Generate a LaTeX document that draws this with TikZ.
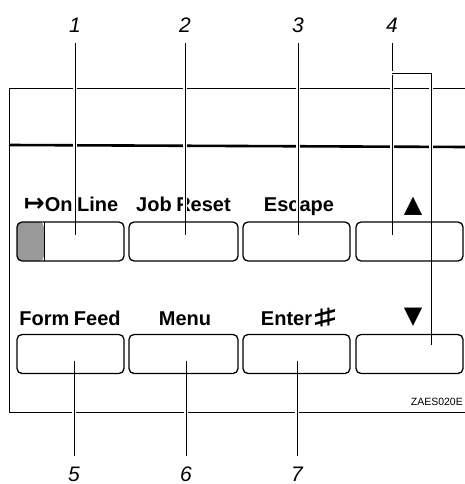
\documentclass[tikz,border=0pt]{standalone}
\usepackage{graphicx}
\usepackage{fontspec}
\setmainfont{Liberation Sans}
\newfontfamily\symfont{DejaVu Sans}
\usepackage{tikz}
\newcommand{\keyfont}{\fontsize{20}{20}\selectfont\bfseries\spaceskip=4.5pt}
\newcommand{\numfont}{\fontsize{21}{21}\selectfont\itshape}
\newcommand{\sharpkey}{\raisebox{-2pt}{\resizebox{20pt}{20pt}{\reflectbox{\rotatebox{90}{\#}}}}}

\begin{document}
\begin{tikzpicture}[x=1pt,y=-1pt,
  key/.style={draw, line width=1.3pt, rounded corners=5pt, minimum width=107pt, minimum height=39pt, inner sep=0pt},
  lamp/.style={path picture={\fill[black!40] (path picture bounding box.north west) rectangle ([xshift=27pt]path picture bounding box.south west);
    \draw[line width=.6pt] ([xshift=27pt]path picture bounding box.north west) -- ([xshift=27pt]path picture bounding box.south west);}},
  keylabel/.style={font=\keyfont, anchor=base, inner sep=0pt},
  num/.style={font=\numfont, anchor=base, inner xsep=0pt, inner ysep=10pt},
  lead/.style={line width=.9pt, preaction={draw=white, line width=4.5pt}}]
\useasboundingbox (0,0) rectangle (465,484);
%panel
\draw[line width=.9pt] (465,88) -- (9,88) -- (9,412) -- (465,412);
\draw[line width=2.6pt] (9,145) -- (465,147);
\node[font=\fontsize{10.5}{10.5}\selectfont, anchor=east, inner sep=0pt] (code) at (463,402) {ZAES020E};
%key labels
\node[keylabel] (lonline) at (71,211) {{\symfont\fontsize{25}{25}\selectfont\bfseries ↦}On Line};
\node[keylabel] (ljobreset) at (183.5,211) {Job Reset};
\node[keylabel] (lescape) at (299,211) {Escape};
\node[keylabel] (lup) at (413,212) {\symfont\fontsize{24}{24}\selectfont ▲};
\node[keylabel] (lformfeed) at (70,325) {Form Feed};
\node[keylabel] (lmenu) at (185,325) {Menu};
\node[keylabel] (lenter) at (298,325) {Enter\hspace{3pt}\sharpkey};
\node[keylabel] (ldown) at (413,323) {\symfont\fontsize{24}{24}\selectfont ▼};
%callout numbers
\node[num] (n1) at (75,33) {1};
\node[num] (n2) at (185,33) {2};
\node[num] (n3) at (298,33) {3};
\node[num] (n4) at (392,33) {4};
\node[num] (n5) at (74,481) {5};
\node[num] (n6) at (186,481) {6};
\node[num] (n7) at (297,481) {7};
\coordinate (e1) at (75,235);
\coordinate (e2) at (185,235);
\coordinate (e3) at (298,235);
\coordinate (e4) at (392,235);
\coordinate (b4) at (392,73);
\coordinate (e4b) at (431,345);
\coordinate (e5) at (74,361);
\coordinate (e6) at (186,361);
\coordinate (e7) at (297,361);
\draw[lead] (n1) -- (e1);
\draw[lead] (n2) -- (e2);
\draw[lead] (n3) -- (e3);
\draw[lead] (n4) -- (e4);
\draw[lead] (b4) -| (e4b);
\draw[lead] (n5) -- (e5);
\draw[lead] (n6) -- (e6);
\draw[lead] (n7) -- (e7);
%keys
\node[key, lamp] (online) at (70.5,241.5) {};
\node[key, minimum width=109pt] (jobreset) at (183.5,241.5) {};
\node[key] (escape) at (296.5,241.5) {};
\node[key] (up) at (409.5,241.5) {};
\node[key] (formfeed) at (70.5,354) {};
\node[key, minimum width=109pt] (menu) at (183.5,354) {};
\node[key] (enter) at (296.5,354) {};
\node[key] (down) at (409.5,354) {};
\end{tikzpicture}
\end{document}
